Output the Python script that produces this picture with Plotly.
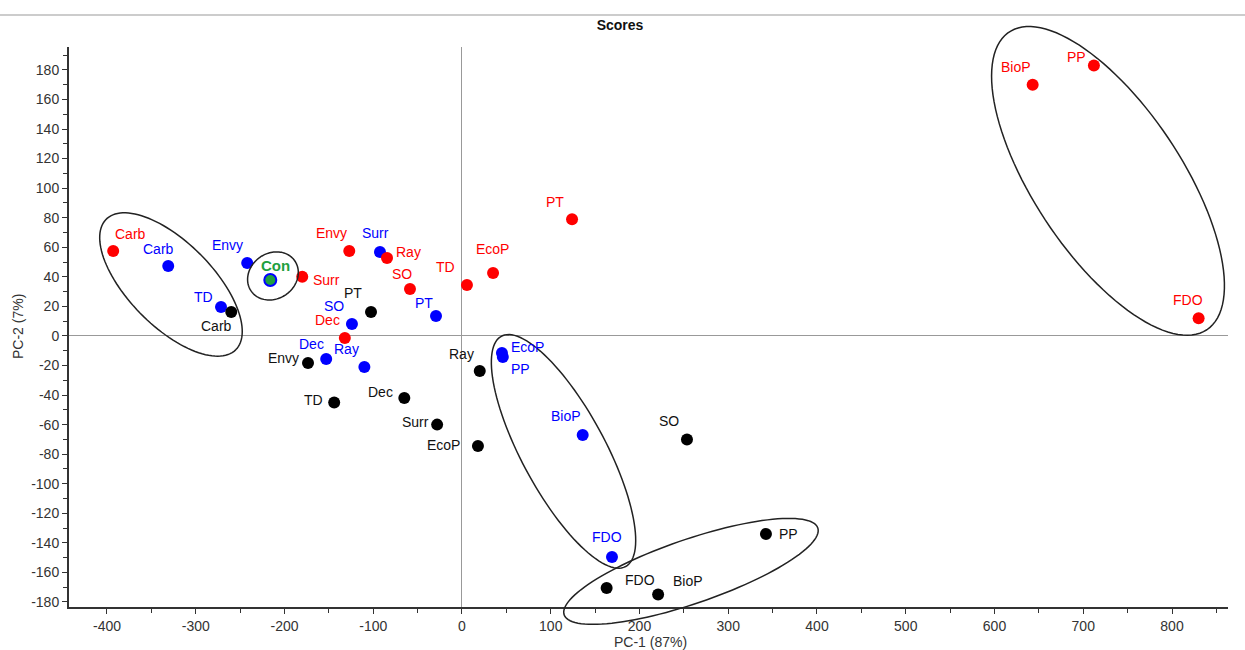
import numpy as np
import plotly.graph_objects as go

# ---------------- data ----------------
labels_red = ["Carb", "Envy", "Surr", "Ray", "SO", "Dec", "TD", "EcoP", "PT", "BioP", "PP", "FDO"]
x_red = [-393, -127, -180, -84.5, -58.6, -132, 5.6, 35, 124, 643, 712, 830]
y_red = [57.5, 57.5, 40, 52.8, 31.8, -1.4, 34.5, 42.6, 79, 170, 183, 12]

labels_blue = ["Carb", "Envy", "TD", "Surr", "SO", "PT", "Dec", "Ray", "EcoP", "PP", "BioP", "FDO"]
x_blue = [-331, -242, -271.5, -92.4, -124, -29.3, -153, -110, 45, 46, 136, 169]
y_blue = [47.4, 49.4, 19.6, 56.8, 8.1, 13.5, -15.6, -21, -11.5, -14.2, -67, -149.5]

labels_black = ["Carb", "PT", "Envy", "TD", "Dec", "Surr", "EcoP", "Ray", "SO", "PP", "FDO", "BioP"]
x_black = [-260, -102.5, -173.5, -144, -65, -28, 18, 20, 253.5, 342.5, 163, 221]
y_black = [16.2, 16.2, -18.3, -45, -42, -60, -74.4, -23.7, -70, -134, -170.5, -175]

label_con = ["Con"]
x_con = [-216]
y_con = [37.9]

x_tickvals = [-400, -300, -200, -100, 0, 100, 200, 300, 400, 500, 600, 700, 800]
y_tickvals = [-180, -160, -140, -120, -100, -80, -60, -40, -20, 0,
              20, 40, 60, 80, 100, 120, 140, 160, 180]
x_ticktext = [str(v) for v in x_tickvals]
y_ticktext = [str(v) for v in y_tickvals]

# ---------------- styling ----------------
RED = "#ff0000"
BLUE = "#0000ff"
BLACK = "#000000"
GREEN = "#1fa040"

X_RANGE = [-442.8, 863.1]
Y_RANGE = [-183.4, 195.5]

# label offsets in pixels (dx right, dy down)
off_red = {"Carb": (17, -17), "Envy": (-18, -18), "Surr": (24, 3), "Ray": (21, -6),
           "SO": (-8, -15), "Dec": (-17, -18), "TD": (-21, -18), "EcoP": (-1, -24),
           "PT": (-17, -17), "BioP": (-17, -18), "PP": (-17, -8), "FDO": (-11, -18)}
off_blue = {"Carb": (-10, -17), "Envy": (-20, -18), "TD": (-18, -10), "Surr": (-4, -19),
            "SO": (-18, -18), "PT": (-12, -13), "Dec": (-15, -15), "Ray": (-18, -18),
            "EcoP": (26, -6), "PP": (18, 12), "BioP": (-17, -19), "FDO": (-5, -20)}
off_black = {"Carb": (-15, 14), "PT": (-18, -19), "Envy": (-25, -5), "TD": (-21, -2),
             "Dec": (-24, -6), "Surr": (-22, -3), "EcoP": (-34, -1), "Ray": (-18, -17),
             "SO": (-18, -18), "PP": (23, 0), "FDO": (33, -8), "BioP": (30, -14)}

# ellipses: center (data), major half-axis vector (data), minor half-axis vector (data)
ellipses = [
    ((-327.9, 34.8), (72.9, -44.2), (-33.7, -20.0)),
    ((-213.0, 40.6), (24.5, 10.3), (14.7, -12.6)),
    ((114.4, -78.1), (70.0, -77.9), (-41.4, -13.4)),
    ((258.0, -159.3), (142.9, 29.4), (11.7, -20.5)),
    ((727.9, 104.9), (111.4, -100.7), (-69.3, -27.7)),
]

FONT = "Liberation Sans, Arial, sans-serif"
NARROW = "Liberation Sans Narrow, Arial Narrow, Liberation Sans, Arial, sans-serif"

fig = go.Figure()


def add_group(xs, ys, color, line_color=None, line_width=0):
    fig.add_trace(go.Scatter(
        x=xs, y=ys, mode="markers",
        marker=dict(size=12, color=color,
                    line=dict(color=line_color or color, width=line_width)),
        hoverinfo="skip", showlegend=False, cliponaxis=False))


add_group(x_blue, y_blue, BLUE)
add_group(x_red, y_red, RED)
add_group(x_black, y_black, BLACK)
add_group(x_con, y_con, GREEN, BLUE, 2)

annotations = []


def add_labels(labels, xs, ys, offs, color, bold=False, size=14):
    for lab, xv, yv in zip(labels, xs, ys):
        dx, dy = offs[lab]
        annotations.append(dict(
            x=xv, y=yv, xref="x", yref="y", text=f"<b>{lab}</b>" if bold else lab,
            showarrow=False, xshift=dx, yshift=-dy,
            font=dict(family=FONT, size=size, color=color)))


add_labels(labels_red, x_red, y_red, off_red, RED)
add_labels(labels_blue, x_blue, y_blue, off_blue, BLUE)
add_labels(labels_black, x_black, y_black, off_black, "#111111")
add_labels(label_con, x_con, y_con, {"Con": (5, -14)}, GREEN, bold=True, size=15)

# axis titles as paper annotations
annotations.append(dict(x=0.5013, xref="paper", y=-0.0625, yref="paper",
                        text="PC-1 (87%)", showarrow=False, xanchor="center", yanchor="middle",
                        font=dict(family=NARROW, size=14, color="#333333")))
annotations.append(dict(x=-0.044, xref="paper", y=0.5, yref="paper",
                        text="PC-2 (7%)", showarrow=False, textangle=-90,
                        xanchor="center", yanchor="middle",
                        font=dict(family=NARROW, size=14, color="#333333")))


def to_paper(xv, yv):
    return ((xv - X_RANGE[0]) / (X_RANGE[1] - X_RANGE[0]),
            (yv - Y_RANGE[0]) / (Y_RANGE[1] - Y_RANGE[0]))


shapes = []
t = np.linspace(0, 2 * np.pi, 120)
for (cx, cy), (ux, uy), (vx, vy) in ellipses:
    ex = cx + ux * np.cos(t) + vx * np.sin(t)
    ey = cy + uy * np.cos(t) + vy * np.sin(t)
    pts = [to_paper(a, b) for a, b in zip(ex, ey)]
    path = "M " + " L ".join(f"{px:.5f},{py:.5f}" for px, py in pts) + " Z"
    shapes.append(dict(type="path", xref="paper", yref="paper", path=path,
                       line=dict(color="#222222", width=1.5), layer="above"))

# top separator line
shapes.append(dict(type="line", xref="paper", yref="paper", x0=-0.07, x1=1.03,
                   y0=1.057, y1=1.057, line=dict(color="#cccccc", width=2)))

fig.update_layout(
    width=1245, height=650,
    margin=dict(l=69, r=17, t=47, b=43, autoexpand=False),
    paper_bgcolor="white", plot_bgcolor="white",
    title=dict(text="<b>Scores</b>", x=620 / 1245, xref="container", xanchor="center",
               y=1 - 25 / 650, yref="container", yanchor="middle",
               font=dict(family=NARROW, size=14, color="#111111")),
    annotations=annotations,
    shapes=shapes,
    showlegend=False,
)

fig.update_xaxes(
    range=X_RANGE, tickmode="array", tickvals=x_tickvals, ticktext=x_ticktext,
    ticks="outside", ticklen=5, tickwidth=1, tickcolor="#333333",
    minor=dict(dtick=50, tick0=0, ticks="outside", ticklen=4, tickcolor="#333333"),
    showline=True, linecolor="#333333", linewidth=2, mirror=False, automargin=False,
    showgrid=False, zeroline=True, zerolinecolor="#999999", zerolinewidth=1,
    tickfont=dict(family=NARROW, size=14, color="#333333"),
)
fig.update_yaxes(
    range=Y_RANGE, tickmode="array", tickvals=y_tickvals, ticktext=y_ticktext,
    ticks="outside", ticklen=5, tickwidth=1, tickcolor="#333333",
    minor=dict(dtick=10, tick0=0, ticks="outside", ticklen=4, tickcolor="#333333"),
    showline=True, linecolor="#333333", linewidth=2, mirror=False, automargin=False,
    showgrid=False, zeroline=True, zerolinecolor="#999999", zerolinewidth=1,
    tickfont=dict(family=NARROW, size=14, color="#333333"),
)

fig.write_html("out.html")
